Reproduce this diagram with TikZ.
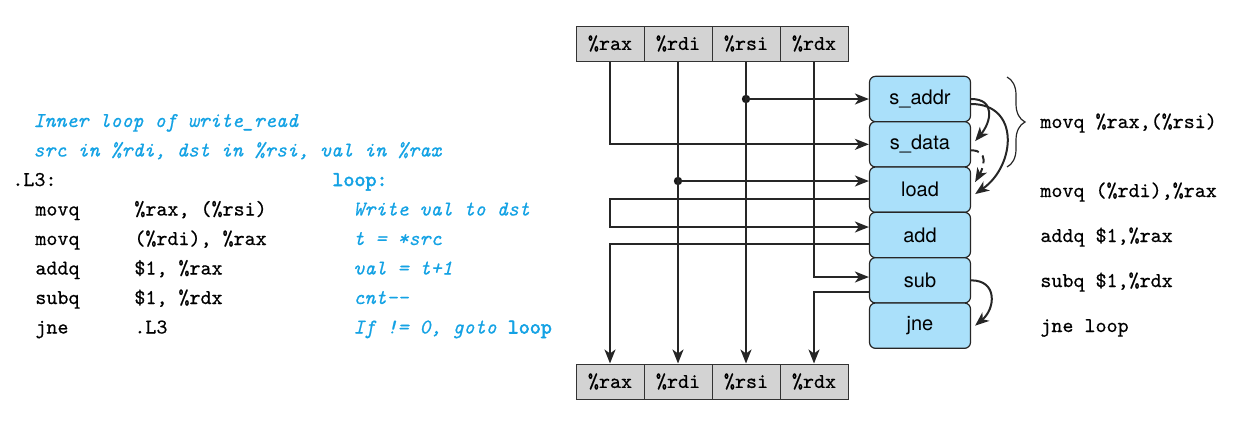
\documentclass[tikz,border=0pt]{standalone}
\usepackage{fontspec}
\setsansfont{TeX Gyre Heros}
\setmonofont{lmmono10-regular.otf}[ItalicFont=lmmono10-italic.otf, BoldFont=lmmono10-regular.otf, BoldFeatures={FakeBold=2.5}, UprightFeatures={FakeBold=0.5}, ItalicFeatures={FakeBold=0.5}]
\usetikzlibrary{arrows.meta,decorations.pathreplacing}
\definecolor{cblue}{RGB}{20,162,228}
\definecolor{boxfill}{RGB}{170,224,250}
\definecolor{cellfill}{RGB}{211,211,211}
\begin{document}
\begin{tikzpicture}[x=0.5pt,y=-0.5pt,
 reg/.style={draw=black!80, fill=cellfill, line width=0.5pt, minimum width=34pt, minimum height=17.5pt, inner sep=0pt, font=\ttfamily\fontsize{10.5}{12}\selectfont},
 unit/.style={draw=black!85, fill=boxfill, rounded corners=3pt, line width=0.6pt, minimum width=50.5pt, minimum height=22.67pt, inner sep=0pt, font=\sffamily\fontsize{10}{12}\selectfont},
 arr/.style={-{Stealth[length=7pt,width=5.5pt,inset=2pt]}, line width=1pt, draw=black!85},
 wire/.style={line width=1pt, draw=black!85},
 code/.style={anchor=base west, inner sep=0pt, font=\ttfamily\fontsize{10.5}{12}\selectfont},
 cmt/.style={anchor=base west, inner sep=0pt, text=cblue, font=\ttfamily\itshape\fontsize{10.5}{12}\selectfont},
 dot/.style={circle, fill=black!90, inner sep=0pt, minimum size=4.2pt}
]
\useasboundingbox (0,0) rectangle (1235,429);

% register rows
\node[reg] (raxT) at (610,43.5) {\%rax};
\node[reg] (rdiT) at (678,43.5) {\%rdi};
\node[reg] (rsiT) at (746,43.5) {\%rsi};
\node[reg] (rdxT) at (814,43.5) {\%rdx};
\node[reg] (raxB) at (610,381.5) {\%rax};
\node[reg] (rdiB) at (678,381.5) {\%rdi};
\node[reg] (rsiB) at (746,381.5) {\%rsi};
\node[reg] (rdxB) at (814,381.5) {\%rdx};

% units
\node[unit] (saddr) at (920,99) {s\_addr};
\node[unit] (sdata) at (920,144.33) {s\_data};
\node[unit] (load)  at (920,189.67) {load};
\node[unit] (add)   at (920,235) {add};
\node[unit] (sub)   at (920,280.33) {sub};
\node[unit] (jne)   at (920,325.67) {jne};

% dots
\node[dot] (d1) at (rsiT.south |- saddr) {};
\node[dot] (d2) at (rdiT.south |- 0,181) {};

% connectors
\draw[arr] (rsiT.south) -- (rsiB.north);
\draw[arr] (rdiT.south) -- (rdiB.north);
\draw[arr] (raxT.south) |- (sdata.west);
\draw[arr] (d1.center) -- (saddr.west);
\draw[arr] (d2.center) -- (load.west |- d2);
\coordinate (lo1) at (raxT.south |- 0,199);
\coordinate (lo2) at (raxT.south |- 0,227);
\draw[arr] (load.west |- 0,199) -- (lo1) -- (lo2) -- (add.west |- 0,227);
\draw[arr] (add.west |- 0,244) -| (raxB.north);
\draw[arr] (rdxT.south) |- (sub.west |- 0,277);
\draw[arr] (sub.west |- 0,292) -| (rdxB.north);

% dependency arcs
\draw[arr] (saddr.east) to[out=0,in=50,looseness=1.5] ([xshift=2pt,yshift=1.6pt]sdata.east);
\draw[arr] ([yshift=-2.5pt]saddr.east) to[out=0,in=35,looseness=1.4] ([xshift=2pt,yshift=-2.2pt]load.east);
\draw[arr,dashed,dash pattern=on 4pt off 2.5pt] ([yshift=-3pt]sdata.east) to[out=0,in=60,looseness=1.4] ([xshift=2pt,yshift=3.8pt]load.east);
\draw[arr] (sub.east) to[out=0,in=40,looseness=1.5] ([xshift=2pt]jne.east);

% brace
\draw[line width=0.6pt, draw=black!85, decorate, decoration={brace, amplitude=9pt}] (1007,77) -- (1007,167);

% right column
\node[code] (r1) at (1040,128) {movq \%rax,(\%rsi)};
\node[code] (r2) at (1040,197) {movq (\%rdi),\%rax};
\node[code] (r3) at (1040,242) {addq \$1,\%rax};
\node[code] (r4) at (1040,287) {subq \$1,\%rdx};
\node[code] (r5) at (1040,332) {jne loop};

% left code
\node[cmt] (c1) at (33,127) {Inner loop of write\_read};
\node[cmt] (c2) at (33,156.5) {src in \%rdi, dst in \%rsi, val in \%rax};
\node[code] (l0) at (12,186) {.L3:};
\node[code] (l1) at (35,215.5) {movq};
\node[code] (l2) at (35,245) {movq};
\node[code] (l3) at (35,274.5) {addq};
\node[code] (l4) at (35,304) {subq};
\node[code] (l5) at (35,333.5) {jne};
\node[code] (o1) at (134,215.5) {\%rax, (\%rsi)};
\node[code] (o2) at (134,245) {(\%rdi), \%rax};
\node[code] (o3) at (134,274.5) {\$1, \%rax};
\node[code] (o4) at (134,304) {\$1, \%rdx};
\node[code] (o5) at (134,333.5) {.L3};
\node[code, text=cblue, font=\ttfamily\bfseries\fontsize{10.5}{12}\selectfont] (b0) at (332,186) {loop:};
\node[cmt] (b1) at (353,215.5) {Write val to dst};
\node[cmt] (b2) at (353,245) {t = *src};
\node[cmt] (b3) at (353,274.5) {val = t+1};
\node[cmt] (b4) at (353,304) {cnt-{}-};
\node[cmt] (b5) at (353,333.5) {If != 0, goto {\upshape\bfseries loop}};
\end{tikzpicture}
\end{document}
